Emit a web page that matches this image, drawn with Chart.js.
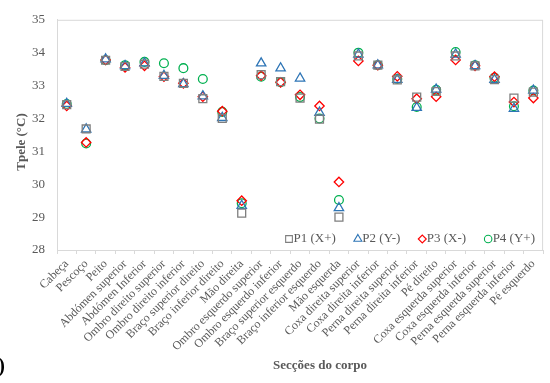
<!DOCTYPE html>
<html>
<head>
<meta charset="utf-8">
<script src="https://cdn.jsdelivr.net/npm/chart.js@4/dist/chart.umd.min.js"></script>
<style>
  html, body { margin: 0; padding: 0; background: #fff; }
  #wrap { width: 550px; height: 383px; position: relative; }
</style>
</head>
<body>
<div id="wrap"><canvas id="c" width="550" height="383"></canvas></div>
<script>
// Body sections (x axis categories)
const sections = [
  'Cabeça', 'Pescoço', 'Peito', 'Abdómen superior', 'Abdómen Inferior',
  'Ombro direito superior', 'Ombro direito inferior', 'Braço superior direito',
  'Braço inferior direito', 'Mão direita', 'Ombro esquerdo superior',
  'Ombro esquerdo inferior', 'Braço superior esquerdo', 'Braço inferior esquerdo',
  'Mão esquerda', 'Coxa direita superior', 'Coxa direita inferior',
  'Perna direita superior', 'Perna direita inferior', 'Pé direito',
  'Coxa esquerda superior', 'Coxa esquerda inferior', 'Perna esquerda superior',
  'Perna esquerda inferior', 'Pé esquerdo'
];

// Skin temperature (°C) per position
const p1 = [32.42, 31.68, 33.77, 33.58, 33.65, 33.28, 33.07, 32.60, 32.00, 29.12,
            33.33, 33.12, 32.62, 31.98, 29.00, 33.90, 33.62, 33.17, 32.65, 32.82,
            33.90, 33.60, 33.18, 32.62, 32.80];
const p2 = [32.45, 31.67, 33.80, 33.60, 33.68, 33.30, 33.05, 32.68, 32.02, 29.35,
            33.68, 33.53, 33.22, 32.18, 29.28, 33.95, 33.62, 33.18, 32.33, 32.88,
            33.95, 33.60, 33.18, 32.30, 32.85];
const p3 = [32.38, 31.27, 33.78, 33.55, 33.60, 33.27, 33.07, 32.66, 32.22, 29.50,
            33.30, 33.10, 32.72, 32.38, 30.07, 33.75, 33.62, 33.28, 32.60, 32.66,
            33.78, 33.60, 33.27, 32.50, 32.62];
const p4 = [32.44, 31.24, 33.77, 33.62, 33.72, 33.68, 33.53, 33.20, 32.20, 29.42,
            33.27, 33.10, 32.65, 32.00, 29.52, 34.00, 33.62, 33.20, 32.35, 32.87,
            34.02, 33.62, 33.24, 32.37, 32.85];

const seriesNames = ['P1 (X+)', 'P2 (Y-)', 'P3 (X-)', 'P4 (Y+)'];
const yTicks = [28, 29, 30, 31, 32, 33, 34, 35];

const SERIF = '"Liberation Serif", "DejaVu Serif", serif';
const GREY_TEXT = '#595959';
const FRAME = '#d9d9d9';

const styles = [
  { color: '#7f7f7f', pointStyle: 'rect', radius: 5.6 },
  { color: '#2e75b6', pointStyle: 'triangle', radius: 5.4 },
  { color: '#ff0000', pointStyle: 'rectRot', radius: 4.7 },
  { color: '#00b050', pointStyle: 'circle', radius: 4.4 }
];

const seriesData = [p1, p2, p3, p4];
const datasets = seriesData.map((d, i) => ({
  label: seriesNames[i],
  data: d,
  showLine: false,
  borderColor: styles[i].color,
  backgroundColor: 'rgba(0,0,0,0)',
  pointBorderColor: styles[i].color,
  pointBackgroundColor: 'rgba(0,0,0,0)',
  pointStyle: styles[i].pointStyle,
  pointRadius: styles[i].radius,
  pointHoverRadius: styles[i].radius,
  pointBorderWidth: 1.3
}));

// Frame, axis titles, in-plot legend and panel mark
const decorations = {
  id: 'decorations',
  beforeDatasetsDraw(chart) {
    const { ctx, chartArea: a } = chart;
    ctx.save();
    ctx.strokeStyle = FRAME;
    ctx.lineWidth = 1;
    ctx.strokeRect(a.left + 0.5, a.top + 0.5, a.right - a.left - 1, a.bottom - a.top);
    ctx.restore();
  },
  afterDraw(chart) {
    const { ctx } = chart;
    ctx.save();
    // y axis title
    ctx.fillStyle = GREY_TEXT;
    ctx.font = 'bold 13px ' + SERIF;
    ctx.textAlign = 'center';
    ctx.textBaseline = 'middle';
    ctx.translate(22, 142);
    ctx.rotate(-Math.PI / 2);
    ctx.fillText('Tpele (°C)', 0, 0);
    ctx.setTransform(1, 0, 0, 1, 0, 0);
    // x axis title
    ctx.fillText('Secções do corpo', 320, 366);

    // legend inside the plot, bottom right
    ctx.font = '13px ' + SERIF;
    ctx.textAlign = 'left';
    const markerGap = 4.5, itemGap = 14;
    const widths = seriesNames.map(n => ctx.measureText(n).width);
    let total = 0;
    widths.forEach((w, i) => { total += 8 + markerGap + w + (i < widths.length - 1 ? itemGap : 0); });
    let x = 539 - total;
    const y = 239;
    chart.data.datasets.forEach((ds, i) => {
      const cx = x + 4;
      ctx.strokeStyle = ds.borderColor;
      ctx.fillStyle = 'rgba(0,0,0,0)';
      ctx.lineWidth = 1.1;
      Chart.helpers.drawPoint(ctx, {
        pointStyle: ds.pointStyle,
        radius: ds.pointRadius * 0.85,
        borderWidth: 1.1
      }, cx, y);
      ctx.fillStyle = GREY_TEXT;
      ctx.fillText(ds.label, x + 8 + markerGap - 4, y);
      x += 8 + markerGap + widths[i] + itemGap;
    });

    // panel mark at the bottom-left
    ctx.fillStyle = '#000';
    ctx.font = 'bold 20px ' + SERIF;
    ctx.textAlign = 'right';
    ctx.textBaseline = 'middle';
    ctx.fillText(')', 5, 367);
    ctx.restore();
  }
};

new Chart(document.getElementById('c'), {
  type: 'line',
  data: { labels: sections, datasets },
  options: {
    responsive: false,
    animation: false,
    events: [],
    layout: { padding: { top: 14, right: 2, left: 0, bottom: 0 } },
    plugins: {
      legend: { display: false },
      tooltip: { enabled: false },
      title: { display: false }
    },
    scales: {
      x: {
        type: 'category',
        offset: true,
        grid: {
          display: true,
          offset: true,
          drawOnChartArea: false,
          drawTicks: true,
          tickLength: 4,
          color: FRAME,
          lineWidth: 1
        },
        border: { display: true, color: FRAME, width: 1 },
        ticks: {
          autoSkip: false,
          minRotation: 45,
          maxRotation: 45,
          padding: 3,
          color: GREY_TEXT,
          font: { family: SERIF, size: 12 }
        },
        afterFit(scale) { scale.height = 133; }
      },
      y: {
        type: 'linear',
        min: 28,
        max: 35,
        afterBuildTicks(scale) { scale.ticks = yTicks.map(v => ({ value: v })); },
        grid: { display: false, drawTicks: false },
        border: { display: true, color: FRAME, width: 1 },
        ticks: {
          padding: 12,
          color: GREY_TEXT,
          font: { family: SERIF, size: 13 }
        },
        afterFit(scale) { scale.width = 57; }
      }
    }
  },
  plugins: [decorations]
});
</script>
</body>
</html>
